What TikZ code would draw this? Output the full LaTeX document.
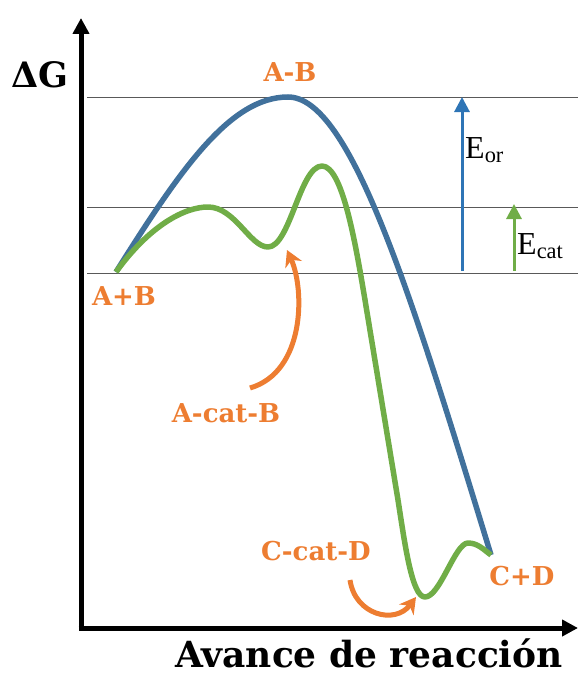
\documentclass[tikz,border=0pt]{standalone}
\usepackage{fontspec}
\setmainfont{DejaVu Serif}
\newfontfamily\efont{Liberation Serif}
\usetikzlibrary{arrows.meta}
\definecolor{cblue}{HTML}{41719C}
\definecolor{cblue2}{HTML}{2E75B6}
\definecolor{cgreen}{HTML}{70AD47}
\definecolor{corange}{HTML}{ED7D31}
\tikzset{
  axis/.style={line width=5pt,-{Triangle[length=16pt,width=16pt]}},
  level/.style={gray!70!black,line width=0.9pt},
  bluecurve/.style={cblue,line width=5.5pt},
  greencurve/.style={cgreen,line width=5.5pt},
  lab/.style={corange,font=\bfseries\fontsize{26}{28}\selectfont,inner sep=0pt},
  elab/.style={font=\efont\fontsize{32}{34}\selectfont,inner sep=0pt,anchor=west},
  curvarrow/.style={corange,line width=5pt,-{Stealth[length=16pt,width=18pt]}},
  earrow/.style={line width=3pt,-{Triangle[length=15pt,width=15pt]}},
}
\begin{document}
\begin{tikzpicture}[x=1pt,y=-1pt]
\useasboundingbox (0,0) rectangle (578,677);
% level lines
\coordinate (l1a) at (87,97);  \coordinate (l1b) at (578,97);
\coordinate (l2a) at (87,207); \coordinate (l2b) at (578,207);
\coordinate (l3a) at (87,273); \coordinate (l3b) at (578,273);
\draw[level] (l1a) -- (l1b);
\draw[level] (l2a) -- (l2b);
\draw[level] (l3a) -- (l3b);
% axes
\coordinate (o) at (81,628);
\coordinate (ytip) at (81,18);
\coordinate (xtip) at (578,628);
\draw[axis] (o) -- (ytip);
\draw[axis] (78.5,628) -- (xtip);
% blue curve
\coordinate (s) at (116,272);
\coordinate (pk) at (288,97);
\coordinate (e) at (491,555);
\draw[bluecurve] (s) .. controls (180,170) and (230,97) .. (pk)
  .. controls (350,97) and (410,290) .. (e);
% green curve
\draw[greencurve,line join=round] (s) .. controls (150,225) and (185,207) .. (208,207)
  .. controls (235,207) and (250,247) .. (268,247)
  .. controls (290,247) and (300,166) .. (322,166)
  .. controls (342,166) and (355,240) .. (365,300)
  -- (398,500)
  .. controls (405,545) and (412,597) .. (425,597)
  .. controls (440,597) and (455,543) .. (468,543)
  .. controls (478,543) and (484,550) .. (e);
% energy arrows
\coordinate (ea0) at (462,271); \coordinate (ea1) at (462,97);
\coordinate (ec0) at (514,271); \coordinate (ec1) at (514,204);
\draw[earrow,cblue2] (ea0) -- (ea1);
\draw[earrow,cgreen] (ec0) -- (ec1);
\node[elab] (eor) at (465,150) {E\textsubscript{or}};
\node[elab] (ecat) at (517,246) {E\textsubscript{cat}};
% orange curved arrows
\coordinate (c1a) at (250,388); \coordinate (c1b) at (287,250);
\draw[curvarrow] (c1a) .. controls (305,372) and (305,290) .. (c1b);
\coordinate (c2a) at (350,580); \coordinate (c2b) at (416,597);
\draw[curvarrow] (c2a) .. controls (355,615) and (395,625) .. (c2b);
% labels
\node[lab] (ab) at (290,72) {A-B};
\node[lab] (apb) at (124,296) {A+B};
\node[lab] (acb) at (226,413) {A-cat-B};
\node[lab] (ccd) at (316,551) {C-cat-D};
\node[lab] (cpd) at (522,576) {C+D};
\node[inner sep=0pt,font=\bfseries\fontsize{35}{38}\selectfont] (dg) at (40,75) {ΔG};
\node[inner sep=0pt,anchor=base,font=\bfseries\fontsize{36}{38}\selectfont] (xl) at (369,667) {Avance de reacción};
\end{tikzpicture}
\end{document}
